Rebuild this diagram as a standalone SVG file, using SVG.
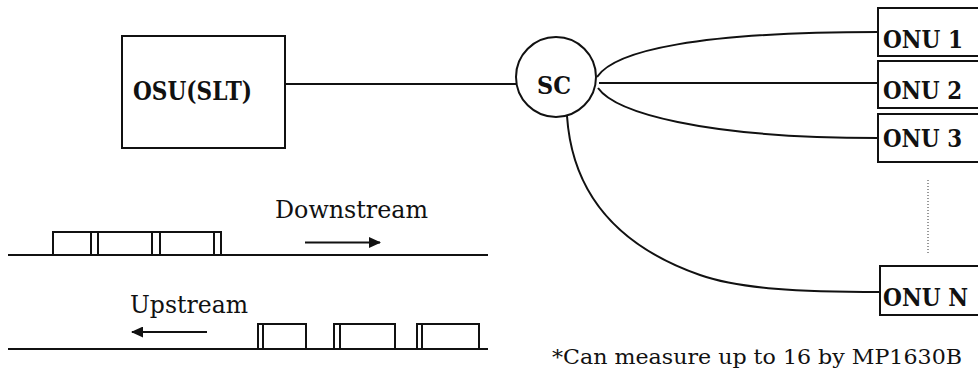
<svg xmlns="http://www.w3.org/2000/svg" width="978" height="373" viewBox="0 0 978 373">
  <defs>
    <style>
      .box { fill: #fff; stroke: #111; stroke-width: 2; }
      .wire { fill: none; stroke: #111; stroke-width: 2; }
      .lbl { font-family: "DejaVu Serif", "Liberation Serif", serif; fill: #111; }
      .lbl-b { font-family: "DejaVu Serif", "Liberation Serif", serif; font-weight: bold; fill: #111; }
    </style>
    <marker id="head" viewBox="0 0 12 11" refX="11" refY="5.5" markerWidth="12" markerHeight="11" markerUnits="userSpaceOnUse" orient="auto">
      <path d="M0,0 L12,5.5 L0,11 Z" fill="#111"/>
    </marker>
  </defs>

  <rect width="978" height="373" fill="#fff"/>

  <!-- connectors -->
  <g id="connectors">
    <line class="wire" x1="285" y1="84" x2="516" y2="84"/>
    <path class="wire" d="M597,77 C615,50 700,32 878,32"/>
    <line class="wire" x1="599" y1="83" x2="878" y2="83"/>
    <path class="wire" d="M598,88 C615,112 700,138 878,138"/>
    <path class="wire" d="M567,116 C571,175 600,240 700,275 C740,289 800,292 880,292"/>
    <line x1="928" y1="180" x2="928" y2="253" stroke="#333" stroke-width="1" stroke-dasharray="1 2"/>
  </g>

  <!-- optical subscriber unit -->
  <g id="osu">
    <rect class="box" x="122" y="36" width="163" height="112"/>
    <text class="lbl-b" x="133" y="100" font-size="26" textLength="119" lengthAdjust="spacingAndGlyphs">OSU(SLT)</text>
  </g>

  <!-- star coupler -->
  <g id="sc">
    <circle class="box" cx="556" cy="77" r="40"/>
    <text class="lbl-b" x="537" y="94" font-size="25" textLength="34" lengthAdjust="spacingAndGlyphs">SC</text>
  </g>

  <!-- terminals -->
  <g id="onu1">
    <rect class="box" x="878" y="8" width="120" height="48"/>
    <text class="lbl-b" x="883" y="48" font-size="24" textLength="80" lengthAdjust="spacingAndGlyphs">ONU 1</text>
  </g>
  <g id="onu2">
    <rect class="box" x="878" y="61" width="120" height="47"/>
    <text class="lbl-b" x="883" y="99" font-size="24" textLength="79" lengthAdjust="spacingAndGlyphs">ONU 2</text>
  </g>
  <g id="onu3">
    <rect class="box" x="878" y="114" width="120" height="48"/>
    <text class="lbl-b" x="883" y="147" font-size="24" textLength="79" lengthAdjust="spacingAndGlyphs">ONU 3</text>
  </g>
  <g id="onuN">
    <rect class="box" x="880" y="266" width="120" height="49"/>
    <text class="lbl-b" x="883" y="306" font-size="24" textLength="85" lengthAdjust="spacingAndGlyphs">ONU N</text>
  </g>

  <!-- downstream frame train -->
  <g id="downstream">
    <line class="wire" x1="8" y1="255" x2="488" y2="255"/>
    <path class="wire" d="M53,255 V232 H221 V255 M91,232 V255 M98,232 V255 M152,232 V255 M160,232 V255 M214,232 V255"/>
    <line class="wire" x1="305" y1="242.5" x2="380" y2="242.5" marker-end="url(#head)"/>
    <text class="lbl" x="275" y="218" font-size="24" textLength="153" lengthAdjust="spacingAndGlyphs">Downstream</text>
  </g>

  <!-- upstream burst train -->
  <g id="upstream">
    <line class="wire" x1="8" y1="349" x2="488" y2="349"/>
    <path class="wire" d="M258,349 V324 H306 V349 M263,324 V349 M334,349 V324 H395 V349 M340,324 V349 M417,349 V324 H479 V349 M422,324 V349"/>
    <line class="wire" x1="207" y1="332" x2="132" y2="332" marker-end="url(#head)"/>
    <text class="lbl" x="130" y="313" font-size="24" textLength="118" lengthAdjust="spacingAndGlyphs">Upstream</text>
  </g>

  <text class="lbl" x="552" y="364" font-size="21" textLength="410" lengthAdjust="spacingAndGlyphs">*Can measure up to 16 by MP1630B</text>
</svg>
